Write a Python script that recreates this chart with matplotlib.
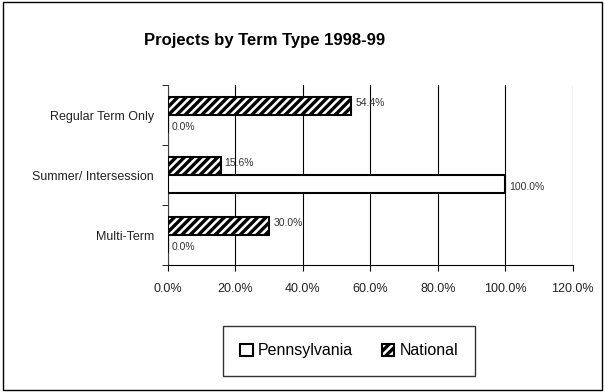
import matplotlib
matplotlib.use('Agg')
import matplotlib.pyplot as plt
import numpy as np
from matplotlib.ticker import FuncFormatter

plt.rcParams['font.family'] = ['Liberation Sans', 'DejaVu Sans']
plt.rcParams['hatch.linewidth'] = 2.4

# data
categories = ['Regular Term Only', 'Summer/ Intersession', 'Multi-Term']
pennsylvania = [0.0, 100.0, 0.0]
national = [54.4, 15.6, 30.0]

fig = plt.figure(figsize=(6.05, 3.92), dpi=100)
ax = fig.add_axes([0.2777, 0.324, 0.669, 0.459])

y = np.arange(len(categories))[::-1]  # top to bottom
h = 0.3

ax.barh(y + h / 2, national, h, facecolor='white', edgecolor='black',
        hatch='////', linewidth=1.5, label='National', zorder=3)
ax.barh(y - h / 2, pennsylvania, h, facecolor='white', edgecolor='black',
        linewidth=1.5, label='Pennsylvania', zorder=3)

for yi, v in zip(y, national):
    ax.text(v + 1.2, yi + h / 2 + 0.05, f'{v:.1f}%', fontsize=7.5,
            color='#333333', va='center', ha='left')
for yi, v in zip(y, pennsylvania):
    ax.text(v + 1.2, yi - h / 2 - 0.05, f'{v:.1f}%', fontsize=7.5,
            color='#333333', va='center', ha='left')

ax.set_xlim(0, 120)
ax.set_ylim(-0.5, 2.5)
ax.set_xticks(np.arange(0, 121, 20))
ax.xaxis.set_major_formatter(FuncFormatter(lambda v, p: f'{v:.1f}%'))
ax.set_yticks(y)
ax.set_yticklabels(categories)
ax.set_yticks([-0.5, 0.5, 1.5, 2.5], minor=True)
ax.tick_params(axis='y', which='major', length=0, labelsize=9, pad=10,
               labelcolor='#222222')
ax.tick_params(axis='y', which='minor', length=4, direction='out')
ax.tick_params(axis='x', length=4, labelsize=9, pad=9, labelcolor='#222222')
ax.grid(axis='x', color='black', linewidth=0.8, zorder=0)
for s in ['top', 'right']:
    ax.spines[s].set_visible(False)
ax.spines['left'].set_color('#444444')
ax.spines['bottom'].set_color('black')

fig.suptitle('Projects by Term Type 1998-99', x=0.438, y=0.915,
             fontsize=12, fontweight='bold')

handles, labels = ax.get_legend_handles_labels()
leg = fig.legend(handles[::-1], labels[::-1], loc='center',
                 bbox_to_anchor=(0.577, 0.105), ncol=2, fontsize=11.5,
                 frameon=True, fancybox=False, edgecolor='black',
                 handlelength=0.8, handleheight=0.8, handletextpad=0.3,
                 columnspacing=1.8, borderpad=1.1)
leg.get_frame().set_linewidth(1.0)

# chart border
fig.patches.append(plt.Rectangle((0.005, 0.005), 0.99, 0.99, transform=fig.transFigure,
                                 fill=False, edgecolor='black', linewidth=1.0))

fig.savefig('out.png', dpi=100)
